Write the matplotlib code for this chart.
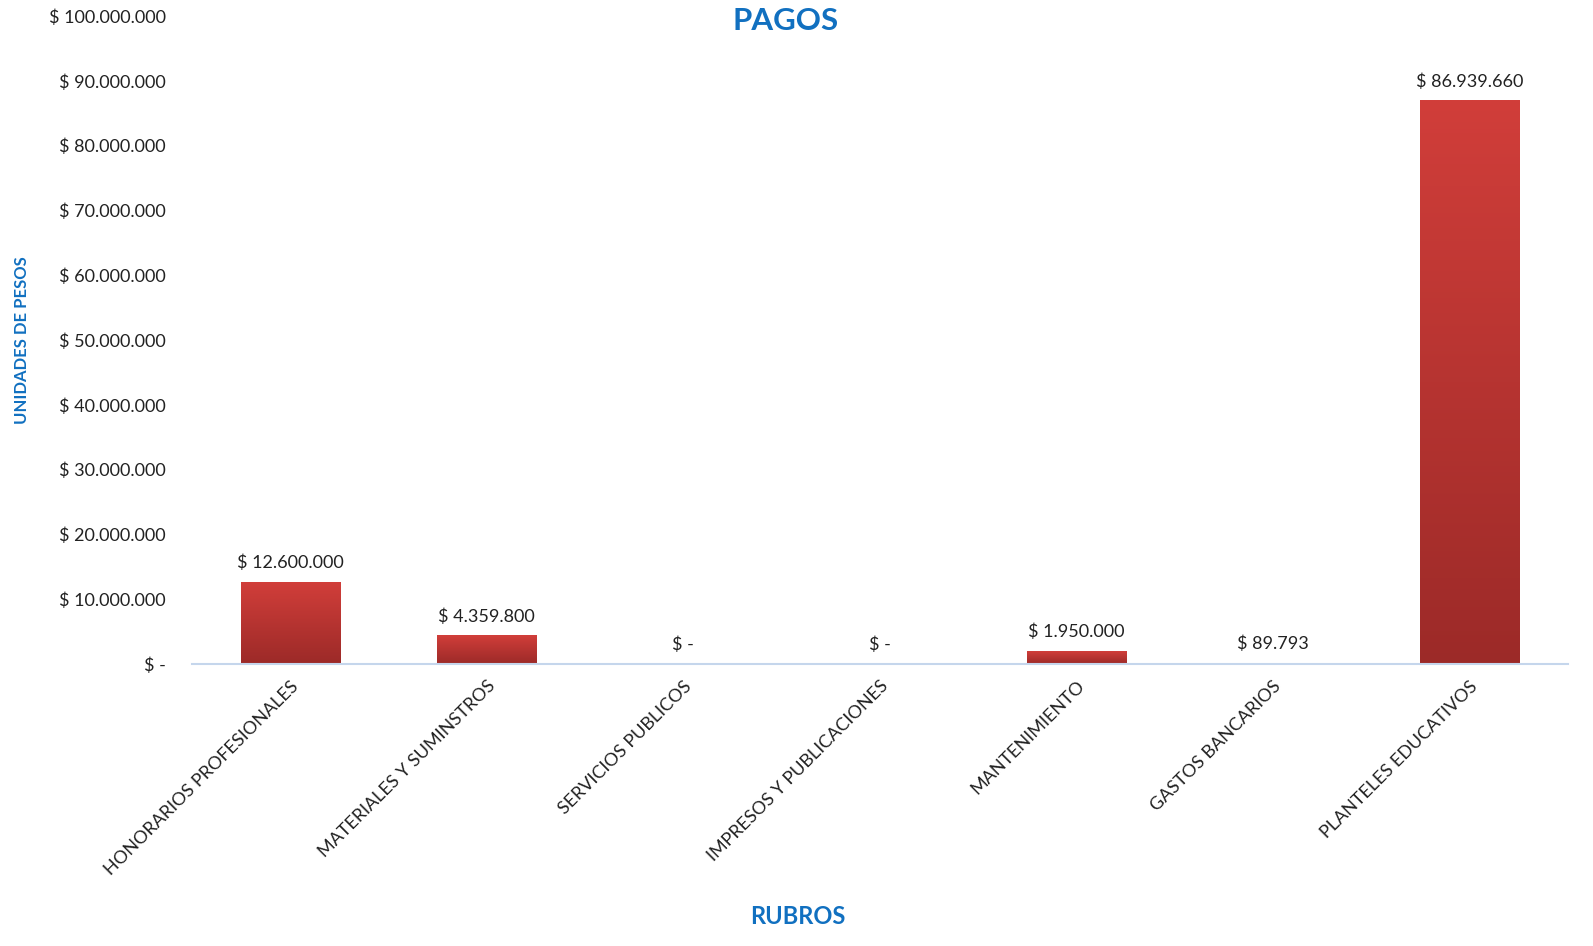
import numpy as np
import matplotlib.pyplot as plt
from matplotlib.colors import LinearSegmentedColormap

# Data
rubros = ['HONORARIOS PROFESIONALES', 'MATERIALES Y SUMINSTROS', 'SERVICIOS PUBLICOS',
          'IMPRESOS Y PUBLICACIONES', 'MANTENIMIENTO', 'GASTOS BANCARIOS',
          'PLANTELES EDUCATIVOS']
pagos = [12600000, 4359800, 0, 0, 1950000, 89793, 86939660]
y_ticks = list(range(0, 100000001, 10000000))

plt.rcParams['font.family'] = ['Lato', 'DejaVu Sans']

blue = '#1170C0'
cmap = LinearSegmentedColormap.from_list('rojo', ['#9C2A28', '#D13E3A'])


def pesos(v):
    if v == 0:
        return '$ -'
    return '$ ' + f'{v:,.0f}'.replace(',', '.')


fig = plt.figure(figsize=(15.93, 9.46), dpi=100)
ax = fig.add_axes([0.1205, 0.298, 0.8635, 0.685])

x = np.arange(len(rubros))
width = 0.505
bars = ax.bar(x, pagos, width=width, color='none', edgecolor='none', zorder=2)

# Vertical gradient inside each bar
grad = np.linspace(0, 1, 256).reshape(-1, 1)
for b in bars:
    h = b.get_height()
    if h <= 0:
        continue
    x0 = b.get_x()
    ax.imshow(grad, cmap=cmap, origin='lower', aspect='auto',
              extent=[x0, x0 + b.get_width(), 0, h], zorder=2)

# Data labels
for xi, v in zip(x, pagos):
    ax.annotate(pesos(v), (xi, v), xytext=(0, 8), textcoords='offset points',
                ha='center', va='bottom', fontsize=13, color='#222222')

ax.set_xlim(-0.5, len(rubros) - 0.5)
ax.set_ylim(0, 100000000)
ax.set_yticks(y_ticks)
ax.set_yticklabels([pesos(v) for v in y_ticks], fontsize=13, color='#222222')
ax.set_xticks(x)
ax.set_xticklabels(rubros, rotation=45, ha='right', rotation_mode='anchor',
                   fontsize=13, color='#222222')
ax.tick_params(axis='both', length=0)
ax.tick_params(axis='y', pad=19)
ax.tick_params(axis='x', pad=10)

for s in ['top', 'right', 'left']:
    ax.spines[s].set_visible(False)
ax.spines['bottom'].set_color('#C5D6EC')
ax.spines['bottom'].set_linewidth(1.5)

fig.text(0.493, 0.978, 'PAGOS', ha='center', va='center', fontsize=22.5,
         fontweight='bold', color=blue)
fig.text(0.501, 0.031, 'RUBROS', ha='center', va='center', fontsize=17,
         fontweight='bold', color=blue)
fig.text(0.014, 0.64, 'UNIDADES DE PESOS', ha='center', va='center', fontsize=12,
         fontweight='bold', color=blue, rotation=90)

fig.savefig('out.png', dpi=100)
